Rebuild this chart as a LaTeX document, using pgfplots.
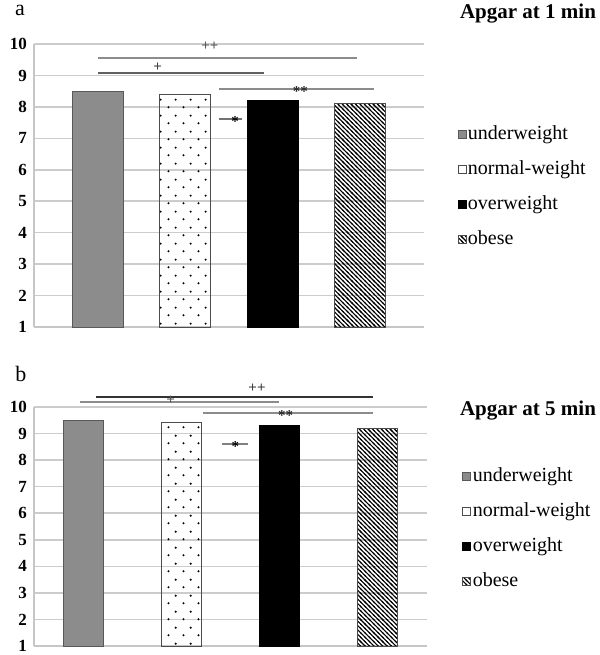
\documentclass[border=0pt]{standalone}
\usepackage{fontspec}
\setmainfont{Liberation Serif}
\usepackage{pgfplots}
\pgfplotsset{compat=1.18}
\usetikzlibrary{patterns,patterns.meta}

% sparse staggered dots for normal-weight
\tikzdeclarepattern{
  name=sparsedots, type=uncolored,
  bottom left={(0pt,0pt)}, top right={(7.5pt,8pt)},
  tile size={(7.5pt,8pt)},
  code={\fill (1.875pt,2pt) circle (0.6pt); \fill (5.625pt,6pt) circle (0.6pt);}
}
% thick backslash hatch for obese
\tikzdeclarepattern{
  name=hatch, type=uncolored,
  bottom left={(-.5pt,-.5pt)}, top right={(2.7pt,2.7pt)},
  tile size={(2.2pt,2.2pt)},
  code={\draw[line width=0.55pt] (-.5pt,2.7pt) -- (2.7pt,-.5pt);}
}

\tikzset{
  sig/.style={line width=1pt},
  star/.style={font=\bfseries\fontsize{7.5}{8}\selectfont, inner sep=0pt},
}

\pgfplotsset{
  apgar/.style={
    anchor=south west, scale only axis,
    ymin=1, ymax=10, ytick={1,...,10}, xtick=\empty,
    axis x line*=bottom, axis y line*=left,
    axis line style={gray!45, line width=0.8pt, -},
    ymajorgrids, grid style={gray!40, line width=0.8pt},
    major tick length=0pt,
    ybar, bar shift=0pt,
    clip mode=individual,
    tick label style={font=\bfseries\fontsize{8.5}{10}\selectfont},
    /pgf/number format/assume math mode=true,
    legend image code/.code={\draw[#1] (0pt,-2pt) rectangle (4pt,2pt);},
    legend style={draw=none, fill=none, inner sep=0pt, row sep=7pt,
      font=\fontsize{10}{12}\selectfont, cells={anchor=west},
      nodes={inner sep=0.7pt, text depth=2pt, text height=7pt}},
  },
  uw/.style={fill=black!45, draw=black!65, line width=0.5pt},
  nw/.style={draw=black!70, line width=0.5pt, pattern=sparsedots},
  ow/.style={fill=black, draw=black, line width=0.5pt},
  ob/.style={draw=black!70, line width=0.5pt, pattern=hatch},
}

\begin{document}
\begin{tikzpicture}
\useasboundingbox (0,0) rectangle (300pt,-327.5pt);

% ---------- panel a ----------
\begin{axis}[apgar,
  at={(17pt,-163.5pt)}, width=195pt, height=141.5pt,
  xmin=-0.74, xmax=3.74, bar width=25.5pt,
  legend style={at={(rel axis cs:1.085,0.495)}, anchor=west}]
\addplot[uw] coordinates {(0,8.5)};
\addplot[nw] coordinates {(1,8.4)};
\addplot[ow] coordinates {(2,8.2)};
\addplot[ob] coordinates {(3,8.1)};
\legend{underweight, normal-weight, overweight, obese}

\draw[sig, black!45] (axis cs:0,9.55) -- (axis cs:2.97,9.55);
\node[star, black!65] at (axis cs:1.28,9.94) {++};
\draw[sig, black!62] (axis cs:0,9.08) -- (axis cs:1.9,9.08);
\node[star, black!75] at (axis cs:0.68,9.27) {+};
\draw[sig, black!45] (axis cs:1.39,8.57) -- (axis cs:3.16,8.57);
\node[star, black!85, yshift=-1.4pt] at (axis cs:2.32,8.57) {**};
\draw[sig, black!55] (axis cs:1.39,7.61) -- (axis cs:1.65,7.61);
\node[star, black, yshift=-1.4pt] at (axis cs:1.57,7.61) {*};
\end{axis}

% ---------- panel b ----------
\begin{axis}[apgar,
  at={(17pt,-323pt)}, width=196.5pt, height=119.5pt,
  xmin=-0.5, xmax=3.5, bar width=20pt,
  legend style={at={(rel axis cs:1.089,0.49)}, anchor=west}]
\addplot[uw] coordinates {(0,9.5)};
\addplot[nw] coordinates {(1,9.4)};
\addplot[ow] coordinates {(2,9.3)};
\addplot[ob] coordinates {(3,9.2)};
\legend{underweight, normal-weight, overweight, obese}

\draw[sig, black!80] (axis cs:0.13,10.36) -- (axis cs:2.95,10.36);
\node[star, black!75] at (axis cs:1.77,10.71) {++};
\draw[sig, black!45] (axis cs:-0.03,10.2) -- (axis cs:1.99,10.2);
\node[star, black!65] at (axis cs:0.89,10.24) {+};
\draw[sig, black!45] (axis cs:1.22,9.79) -- (axis cs:2.95,9.79);
\node[star, black!85, yshift=-1.4pt] at (axis cs:2.06,9.79) {**};
\draw[sig, black!50] (axis cs:1.41,8.61) -- (axis cs:1.68,8.61);
\node[star, black, yshift=-1.4pt] at (axis cs:1.55,8.61) {*};
\end{axis}

% panel letters and titles
\node[font=\fontsize{11}{12}\selectfont] at (10pt,-5pt) {a};
\node[font=\fontsize{11}{12}\selectfont] at (10.5pt,-187pt) {b};
\node[font=\bfseries\fontsize{10.5}{12}\selectfont] at (264pt,-7pt) {Apgar at 1 min};
\node[font=\bfseries\fontsize{10.5}{12}\selectfont] at (264pt,-205.5pt) {Apgar at 5 min};
\end{tikzpicture}
\end{document}
